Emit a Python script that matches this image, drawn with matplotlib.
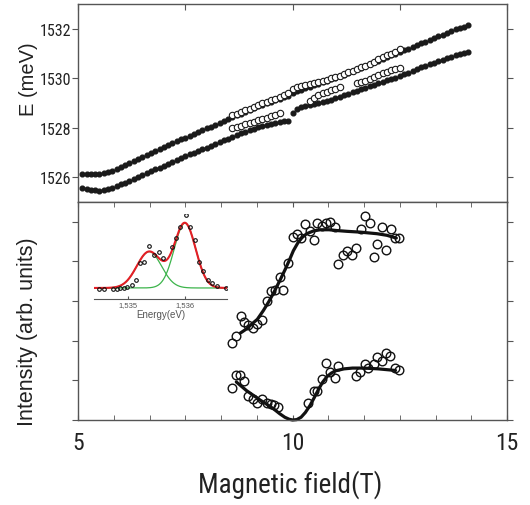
import numpy as np
import matplotlib
matplotlib.use('Agg')
import matplotlib.pyplot as plt
from matplotlib import font_manager as fm
from matplotlib.ticker import FixedLocator, NullFormatter

# ---------------- data ----------------
field_filled = np.round(np.arange(51, 142) / 10.0, 1)   # 5.1 ... 14.1 T
E_upper_filled = [
    1526.15, 1526.15, 1526.14, 1526.14, 1526.15, 1526.17, 1526.21, 1526.26, 1526.33, 1526.41,
    1526.49, 1526.57, 1526.65, 1526.73, 1526.81, 1526.89, 1526.97, 1527.05, 1527.13, 1527.21,
    1527.29, 1527.37, 1527.45, 1527.53, 1527.60, 1527.68, 1527.76, 1527.84, 1527.91, 1527.98,
    1528.05, 1528.13, 1528.20, 1528.27, 1528.35, 1528.42, 1528.50, 1528.57, 1528.65, 1528.72,
    1528.79, 1528.86, 1528.93, 1529.00, 1529.06, 1529.12, 1529.18, 1529.23, 1529.28, 1529.40,
    1529.47, 1529.53, 1529.59, 1529.65, 1529.71, 1529.77, 1529.83, 1529.89, 1529.95, 1530.01,
    1530.08, 1530.15, 1530.22, 1530.29, 1530.36, 1530.43, 1530.50, 1530.57, 1530.64, 1530.71,
    1530.78, 1530.85, 1530.92, 1530.99, 1531.06, 1531.13, 1531.20, 1531.27, 1531.34, 1531.41,
    1531.48, 1531.55, 1531.62, 1531.69, 1531.76, 1531.83, 1531.90, 1531.97, 1532.03, 1532.09,
    1532.14]
E_lower_filled = [
    1525.55, 1525.52, 1525.50, 1525.47, 1525.46, 1525.48, 1525.52, 1525.58, 1525.64, 1525.71,
    1525.78, 1525.85, 1525.93, 1526.01, 1526.09, 1526.17, 1526.25, 1526.32, 1526.39, 1526.47,
    1526.55, 1526.63, 1526.71, 1526.78, 1526.85, 1526.92, 1526.99, 1527.06, 1527.13, 1527.20,
    1527.28, 1527.35, 1527.42, 1527.49, 1527.56, 1527.63, 1527.70, 1527.77, 1527.84, 1527.90,
    1527.96, 1528.02, 1528.07, 1528.12, 1528.16, 1528.20, 1528.23, 1528.26, 1528.28, 1528.60,
    1528.75, 1528.82, 1528.87, 1528.91, 1528.95, 1528.99, 1529.03, 1529.08, 1529.13, 1529.19,
    1529.25, 1529.31, 1529.37, 1529.43, 1529.49, 1529.55, 1529.61, 1529.67, 1529.73, 1529.79,
    1529.85, 1529.91, 1529.97, 1530.03, 1530.09, 1530.16, 1530.23, 1530.30, 1530.37, 1530.44,
    1530.50, 1530.56, 1530.62, 1530.68, 1530.74, 1530.80, 1530.86, 1530.92, 1530.97, 1531.02,
    1531.06]

field_open_upper = np.round(np.arange(86, 126) / 10.0, 1)  # 8.6 ... 12.5 T
E_open_upper = [
    1528.50, 1528.56, 1528.63, 1528.70, 1528.77, 1528.84, 1528.91, 1528.98, 1529.05, 1529.11,
    1529.17, 1529.24, 1529.32, 1529.42, 1529.58, 1529.63, 1529.67, 1529.72, 1529.76, 1529.80,
    1529.84, 1529.88, 1529.93, 1529.99, 1530.05, 1530.11, 1530.17, 1530.24, 1530.31, 1530.38,
    1530.44, 1530.50, 1530.56, 1530.66, 1530.78, 1530.85, 1530.92, 1530.99, 1531.07, 1531.17]

field_open_lower = [8.6, 8.7, 8.8, 8.9, 9.0, 9.1, 9.2, 9.3, 9.4, 9.5, 9.6, 9.7,
                    10.4, 10.5, 10.6, 10.7, 10.8, 10.9, 11.0, 11.1,
                    11.5, 11.6, 11.7, 11.8, 11.9, 12.0, 12.1, 12.2, 12.3, 12.4, 12.5]
E_open_lower = [1527.97, 1528.03, 1528.09, 1528.14, 1528.19, 1528.25, 1528.30, 1528.35,
                1528.41, 1528.47, 1528.53, 1528.58,
                1529.10, 1529.22, 1529.32, 1529.40, 1529.46, 1529.52, 1529.58, 1529.65,
                1529.82, 1529.86, 1529.90, 1529.95, 1530.05, 1530.14, 1530.20, 1530.26,
                1530.32, 1530.38, 1530.42]

# Intensity panel
field_int_upper = [8.58, 8.69, 8.79, 8.88, 8.97, 9.09, 9.18, 9.28, 9.40, 9.49, 9.59, 9.70,
                   9.79, 9.89, 10.00, 10.10, 10.19, 10.30, 10.40, 10.49, 10.58, 10.68,
                   10.79, 10.88, 10.99, 11.07, 11.17, 11.28, 11.38, 11.49, 11.59, 11.70,
                   11.80, 11.89, 11.98, 12.08, 12.19, 12.29, 12.40, 12.49]
int_upper = [1.95, 2.12, 2.63, 2.47, 2.39, 2.33, 2.42, 2.53, 3.01, 3.26, 3.28, 3.62,
             3.28, 3.97, 4.62, 4.69, 4.60, 4.94, 4.77, 4.55, 4.98, 4.90,
             4.98, 5.00, 4.88, 3.93, 4.16, 4.27, 4.16, 4.35, 4.81, 5.15,
             4.97, 4.10, 4.44, 4.86, 4.29, 4.81, 4.60, 4.60]
field_int_lower = [8.58, 8.69, 8.78, 8.88, 8.97, 9.07, 9.18, 9.28, 9.40, 9.49, 9.58, 9.67,
                   10.37, 10.49, 10.58, 10.68, 10.79, 10.88, 10.99, 11.07,
                   11.49, 11.58, 11.68, 11.77, 11.89, 11.98, 12.08, 12.19, 12.28, 12.40, 12.49]
int_lower = [0.80, 1.13, 1.13, 0.99, 0.61, 0.52, 0.44, 0.54, 0.44, 0.40, 0.37, 0.34,
             0.42, 0.73, 0.73, 1.03, 1.45, 1.20, 1.07, 1.35,
             1.11, 1.20, 1.41, 1.32, 1.41, 1.60, 1.49, 1.68, 1.62, 1.30, 1.26]

fit_field_upper = [8.78, 8.93, 9.05, 9.18, 9.32, 9.45, 9.58, 9.71, 9.83, 9.93, 10.02, 10.12,
                   10.22, 10.33, 10.49, 10.65, 10.85, 11.03, 11.27, 11.58, 11.97, 12.20, 12.42]
fit_upper = [2.19, 2.30, 2.42, 2.54, 2.76, 2.99, 3.25, 3.53, 3.80, 4.04, 4.27, 4.46,
             4.60, 4.70, 4.77, 4.80, 4.80, 4.78, 4.76, 4.74, 4.70, 4.66, 4.59]
fit_field_lower = [8.69, 8.93, 9.09, 9.25, 9.41, 9.56, 9.70, 9.82, 9.92, 10.00, 10.10, 10.20,
                   10.30, 10.41, 10.50, 10.60, 10.70, 10.80, 10.90, 11.00, 11.20, 11.40,
                   11.66, 12.00, 12.40]
fit_lower = [0.96, 0.74, 0.62, 0.50, 0.39, 0.28, 0.16, 0.07, 0.02, 0.00, 0.01, 0.07,
             0.19, 0.37, 0.55, 0.76, 0.95, 1.09, 1.18, 1.24, 1.29, 1.31,
             1.31, 1.29, 1.25]

# Inset spectrum (energy in eV, normalised intensity)
inset_energy = [1.53449, 1.53458, 1.53474, 1.53481, 1.53486, 1.53492, 1.53498, 1.53506,
                1.53514, 1.53521, 1.53528, 1.53537, 1.53546, 1.53554, 1.53562, 1.53577,
                1.53584, 1.53592, 1.53601, 1.53609, 1.53617, 1.53625, 1.53632, 1.53640,
                1.53647, 1.53656, 1.53672]
inset_int = [-0.015, -0.015, -0.015, -0.015, 0.0, 0.005, 0.015, 0.045,
             0.12, 0.38, 0.40, 0.63, 0.50, 0.54, 0.45, 0.62,
             0.75, 0.92, 1.10, 0.92, 0.73, 0.40, 0.25, 0.12,
             0.075, 0.025, 0.0]
# Gaussian fit components: (amplitude, centre eV, sigma eV)
peak1 = (0.55, 1.53537, 0.000216)
peak2 = (0.98, 1.53600, 0.000188)
inset_range = (1.53440, 1.53674)

# ---------------- fonts ----------------
def pick_font(pref_names, want_narrow):
    fl = fm.fontManager.ttflist
    for pn in pref_names:
        for f in fl:
            if f.name == pn and f.style == 'normal' and f.weight in (400, 'normal', 'regular', 'book'):
                st = str(f.stretch)
                is_narrow = ('Narrow' in f.name or 'Condensed' in f.name or
                             st in ('condensed', 'semi-condensed', 'extra-condensed', 'ultra-condensed'))
                if want_narrow and not is_narrow:
                    continue
                return fm.FontProperties(fname=f.fname)
    return None

narrow = pick_font(['Liberation Sans Narrow', 'Roboto Condensed', 'DejaVu Sans Condensed',
                    'DejaVu Sans', 'Roboto', 'Noto Sans', 'Open Sans'], True)
regular = pick_font(['Liberation Sans', 'Arial', 'DejaVu Sans'], False)
if regular is None:
    regular = fm.FontProperties(family='DejaVu Sans')
if narrow is None:
    narrow = regular

def fp(base, size):
    p = base.copy()
    p.set_size(size)
    return p

# ---------------- figure ----------------
W, H = 530, 506
fig = plt.figure(figsize=(W / 100, H / 100), dpi=100)
spine_c = '#555555'
ax1 = fig.add_axes([78 / W, 1 - 203 / H, 429 / W, 198 / H])
ax2 = fig.add_axes([78 / W, 1 - 421 / H, 429 / W, 218 / H])

for ax in (ax1, ax2):
    for s in ax.spines.values():
        s.set_color(spine_c)
        s.set_linewidth(1.0)
    ax.set_xlim(5, 15)

# top panel
dot_c = '#1a1a1a'
ax1.plot(field_filled, E_upper_filled, 'o', ms=3.4, color=dot_c, mec=dot_c, zorder=2)
ax1.plot(field_filled, E_lower_filled, 'o', ms=3.4, color=dot_c, mec=dot_c, zorder=2)
ax1.plot(field_open_upper, E_open_upper, 'o', ms=4.6, mfc='white', mec=dot_c, mew=0.8, zorder=3)
ax1.plot(field_open_lower, E_open_lower, 'o', ms=4.6, mfc='white', mec=dot_c, mew=0.8, zorder=3)
ax1.set_ylim(1525, 1533)
ax1.yaxis.set_major_locator(FixedLocator([1526, 1528, 1530, 1532]))
ax1.xaxis.set_major_locator(FixedLocator([5, 7.5, 10, 12.5, 15]))
ax1.tick_params(axis='x', which='both', direction='in', top=True, bottom=False,
                labelbottom=False, length=4, color=spine_c)
ax1.tick_params(axis='y', which='both', direction='out', left=True, right=True,
                length=4, pad=1, color=spine_c)
for lab in ax1.get_yticklabels():
    lab.set_fontproperties(fp(narrow, 11.5))
    lab.set_color('#222222')

# bottom panel
ax2.plot(fit_field_upper, fit_upper, '-', color='#111111', lw=2.3, zorder=2,
         solid_capstyle='round', solid_joinstyle='round')
ax2.plot(fit_field_lower, fit_lower, '-', color='#111111', lw=2.3, zorder=2, clip_on=False,
         solid_capstyle='round', solid_joinstyle='round')
ax2.plot(field_int_upper, int_upper, 'o', ms=6.2, mfc='none', mec='#111111', mew=1.0, zorder=3)
ax2.plot(field_int_lower, int_lower, 'o', ms=6.2, mfc='none', mec='#111111', mew=1.0, zorder=3)
ax2.set_ylim(0, 5.5)
ax2.yaxis.set_major_locator(FixedLocator([0, 1, 2, 3, 4, 5]))
ax2.yaxis.set_major_formatter(NullFormatter())
ax2.xaxis.set_major_locator(FixedLocator([5, 10, 15]))
ax2.xaxis.set_minor_locator(FixedLocator([5 + k * 5 / 6 for k in range(13) if k % 6 != 0]))
ax2.tick_params(axis='x', which='both', direction='in', top=True, bottom=True,
                length=3.5, pad=8, color=spine_c)
ax2.tick_params(axis='y', which='both', direction='out', left=True, right=True,
                length=4, color=spine_c)
ax2.set_xticklabels(['5', '10', '15'])
for lab in ax2.get_xticklabels():
    lab.set_fontproperties(fp(narrow, 17))
    lab.set_color('#222222')

# axis labels
fig.text(28 / W, 1 - 79 / H, 'E (meV)', rotation=90, ha='center', va='center',
         fontproperties=fp(regular, 14.5), color='#222222')
fig.text(28 / W, 1 - 332 / H, 'Intensity (arb. units)', rotation=90, ha='center', va='center',
         fontproperties=fp(regular, 15.5), color='#222222')
fig.text(290 / W, 1 - 485 / H, 'Magnetic field(T)', ha='center', va='center',
         fontproperties=fp(narrow, 19.5), color='#222222')

# inset
axi = fig.add_axes([94 / W, 1 - 300 / H, 133 / W, 85 / H])
axi.patch.set_alpha(0)
e_grid = np.linspace(inset_range[0], inset_range[1], 400)
g1 = peak1[0] * np.exp(-(e_grid - peak1[1]) ** 2 / (2 * peak1[2] ** 2))
g2 = peak2[0] * np.exp(-(e_grid - peak2[1]) ** 2 / (2 * peak2[2] ** 2))
axi.plot(e_grid, g1, color='#3cb44b', lw=0.9, zorder=2)
axi.plot(e_grid, g2, color='#3cb44b', lw=0.9, zorder=2)
axi.plot(e_grid, g1 + g2, color='#e41e26', lw=1.5, zorder=3)
axi.plot(inset_energy, inset_int, 'o', ms=2.6, mfc='none', mec='#111111', mew=0.8, zorder=4)
axi.set_xlim(*inset_range)
axi.set_ylim(-0.167, 1.12)
for side in ('top', 'right', 'left'):
    axi.spines[side].set_visible(False)
axi.spines['bottom'].set_color(spine_c)
axi.spines['bottom'].set_linewidth(0.8)
axi.set_yticks([])
axi.set_xticks([1.535, 1.536])
axi.set_xticklabels(['1,535', '1,536'])
axi.tick_params(axis='x', direction='in', length=2, pad=1.5, color=spine_c)
for lab in axi.get_xticklabels():
    lab.set_fontproperties(fp(regular, 5.5))
    lab.set_color('#555555')
axi.set_xlabel('Energy(eV)', fontproperties=fp(regular, 7), color='#555555', labelpad=1)

fig.savefig('out.png', dpi=100)
